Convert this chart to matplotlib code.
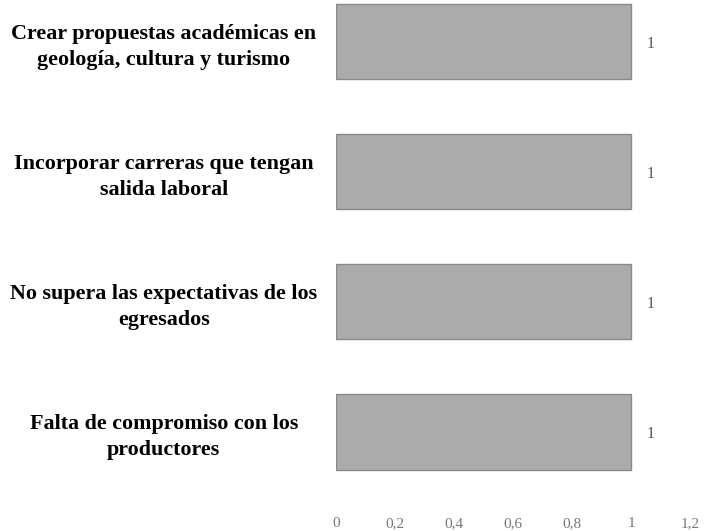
import matplotlib.pyplot as plt

# Data
categories = [
    "Crear propuestas académicas en\ngeología, cultura y turismo",
    "Incorporar carreras que tengan\nsalida laboral",
    "No supera las expectativas de los\negresados",
    "Falta de compromiso con los\nproductores",
]
values = [1, 1, 1, 1]
xticks = [0, 0.2, 0.4, 0.6, 0.8, 1, 1.2]
xtick_labels = ["0", "0,2", "0,4", "0,6", "0,8", "1", "1,2"]

plt.rcParams['font.family'] = ['Liberation Serif', 'DejaVu Serif']

fig = plt.figure(figsize=(7.08, 5.31), dpi=100)
ax = fig.add_axes([0.4746, 0.052, 0.5, 0.948])

pos = list(range(len(categories)))
bars = ax.barh(pos, values, height=0.58, color='#ababab',
               edgecolor='#8a8a8a', linewidth=1.0)

# value labels to the right of each bar
for p, v in zip(pos, values):
    ax.text(v + 0.065, p + 0.02, str(v), va='center', ha='center',
            fontsize=11.5, color='#555555')

ax.set_xlim(0, 1.2)
ax.set_ylim(3.55, -0.32)
ax.set_xticks(xticks)
ax.set_xticklabels(xtick_labels, fontsize=11, color='#777777')
ax.set_yticks(pos)
ax.set_yticklabels(categories, fontsize=15.8, fontweight='bold',
                   ha='center', multialignment='center', linespacing=1.4)
ax.tick_params(axis='y', length=0, pad=124)
ax.tick_params(axis='x', length=0, pad=10)

for s in ax.spines.values():
    s.set_visible(False)

fig.savefig('out.png', dpi=100)
